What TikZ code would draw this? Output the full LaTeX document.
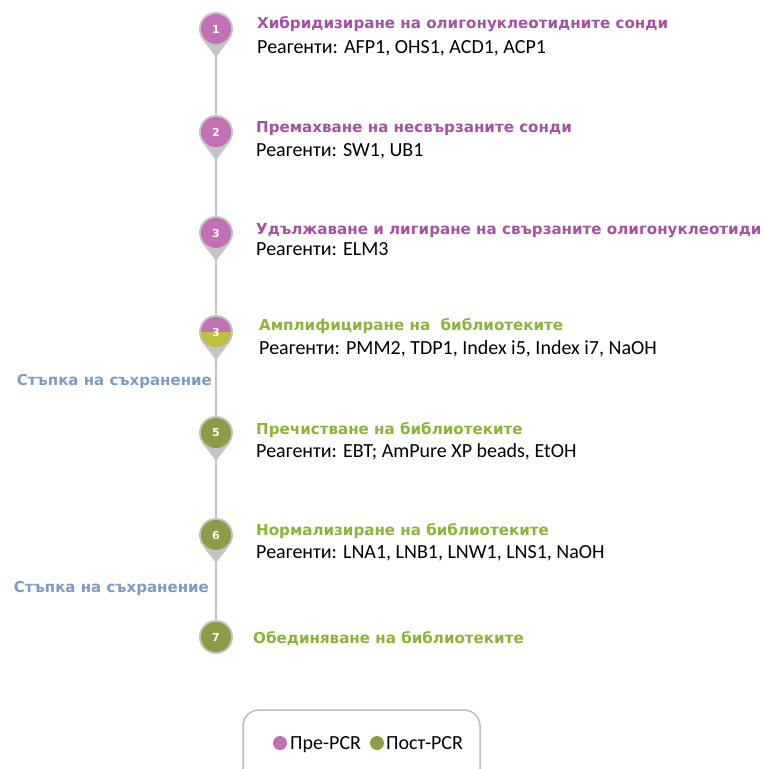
\documentclass[tikz,border=0pt]{standalone}
\usepackage{fontspec}
\setmainfont{Carlito}
\newfontfamily\headfont{DejaVu Sans}
\usepackage{tikz}
\usetikzlibrary{calc, positioning}
\definecolor{prepink}{HTML}{C271B4}
\definecolor{pretext}{HTML}{A850A6}
\definecolor{postgreen}{HTML}{8E9D45}
\definecolor{posttext}{HTML}{8DB43A}
\definecolor{ampyellow}{HTML}{BBC23C}
\definecolor{storeblue}{HTML}{7C9BC6}
\definecolor{pingray}{HTML}{C4C4C4}
\definecolor{boxgray}{HTML}{BDBDBD}

\begin{document}
\begin{tikzpicture}[x=1pt, y=-1pt,
    every node/.style={inner sep=0pt},
    pinhead/.style={circle, minimum size=30pt, text=white, font=\headfont\bfseries\fontsize{11}{13}\selectfont},
    steptitle/.style={anchor=base west, font=\headfont\bfseries\fontsize{15.1}{18}\selectfont},
    reagents/.style={anchor=base west, font=\fontsize{20}{24}\selectfont},
    storage/.style={anchor=base east, text=storeblue, font=\headfont\bfseries\fontsize{15}{18}\selectfont}]
  \useasboundingbox (0,0) rectangle (766,769);
  % timeline
  \coordinate (c1) at (216,29);
  \coordinate (c7) at (216,637);
  \draw[pingray, line width=2pt] (c1) -- (c7);
  % pins
  \foreach \i/\y in {1/29, 2/132, 3/233, 4/332, 5/433, 6/535} {
    \fill[pingray] (216,\y) circle (17);
    \fill[pingray] ($(216,\y)+(-13.5,10.3)$) -- ($(216,\y)+(0,28)$) -- ($(216,\y)+(13.5,10.3)$) -- cycle;
  }
  \fill[pingray] (c7) circle (17);
  \node[pinhead, fill=prepink] (p1) at (216,29) {1};
  \node[pinhead, fill=prepink] (p2) at (216,132) {2};
  \node[pinhead, fill=prepink] (p3) at (216,233) {3};
  \node[pinhead, fill=prepink] (p4) at (216,332) {};
  \begin{scope}
    \clip (p4.center) circle (15);
    \fill[ampyellow] ($(p4.center)+(-15,0)$) rectangle ($(p4.center)+(15,15)$);
  \end{scope}
  \node[pinhead] at (p4.center) {3};
  \node[pinhead, fill=postgreen] (p5) at (216,433) {5};
  \node[pinhead, fill=postgreen] (p6) at (216,535) {6};
  \node[pinhead, fill=postgreen] (p7) at (c7) {7};
  % steps
  \node[steptitle, text=pretext] (t1) at (257,28) {Хибридизиране на олигонуклеотидните сонди};
  \node[reagents] (r1) at (257,53.5) {Реагенти: AFP1, OHS1, ACD1, ACP1};
  \node[steptitle, text=pretext] (t2) at (256,132) {Премахване на несвързаните сонди};
  \node[reagents] (r2) at (256,156.5) {Реагенти: SW1, UB1};
  \node[steptitle, text=pretext] (t3) at (256,234) {Удължаване и лигиране на свързаните олигонуклеотиди};
  \node[reagents] (r3) at (256,255.5) {Реагенти: ELM3};
  \node[steptitle, text=posttext] (t4) at (259,330) {Амплифициране на \ библиотеките};
  \node[reagents] (r4) at (259,354.5) {Реагенти: PMM2, TDP1, Index i5, Index i7, NaOH};
  \node[steptitle, text=posttext] (t5) at (256,434) {Пречистване на библиотеките};
  \node[reagents] (r5) at (256,457.5) {Реагенти: EBT; AmPure XP beads, EtOH};
  \node[steptitle, text=posttext] (t6) at (256,535) {Нормализиране на библиотеките};
  \node[reagents] (r6) at (256,558.5) {Реагенти: LNA1, LNB1, LNW1, LNS1, NaOH};
  \node[steptitle, text=posttext] (t7) at (253,643) {Обединяване на библиотеките};
  % storage points
  \node[storage] (s1) at (212,385.5) {Стъпка на съхранение};
  \node[storage] (s2) at (209,592.5) {Стъпка на съхранение};
  % legend
  \draw[boxgray, line width=1.5pt, rounded corners=16pt] (243,710) rectangle (480,790);
  \fill[prepink] (280,743) circle (7);
  \node[reagents] (lpre) at (290,749.5) {Пре-PCR};
  \fill[postgreen] (377,743) circle (7);
  \node[reagents] (lpost) at (386,749.5) {Пост-PCR};
\end{tikzpicture}
\end{document}
